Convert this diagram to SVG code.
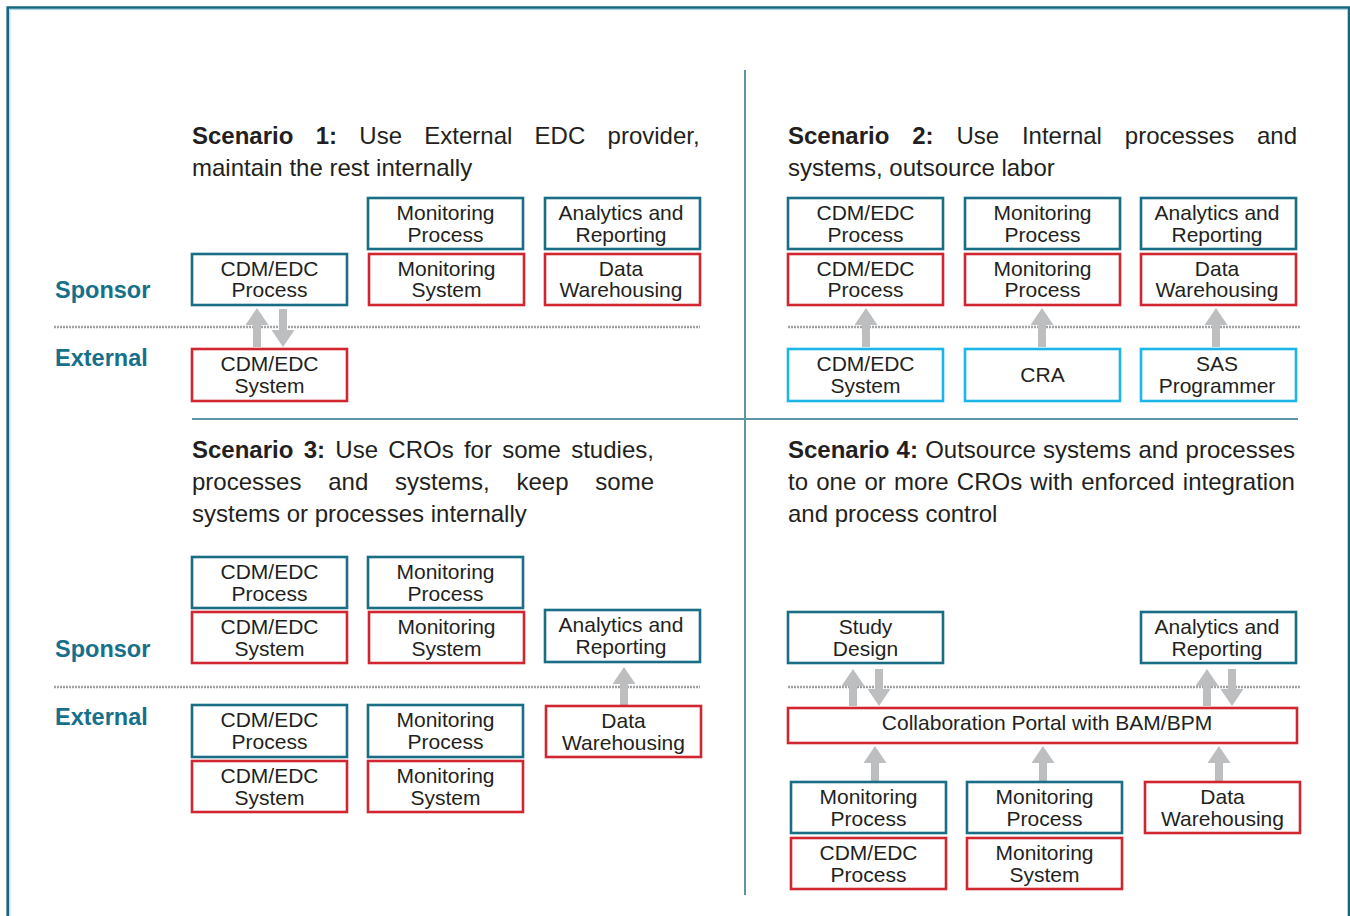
<svg xmlns="http://www.w3.org/2000/svg" width="1350" height="916" viewBox="0 0 1350 916">
<style>
.bg{fill:#ffffff}
.frame{fill:none;stroke:#16677f;stroke-width:2.6}
.frame2{fill:none;stroke:#9fd0e2;stroke-width:1}
.div{stroke:#5e95a5;stroke-width:2}
.dot{stroke:#a3a3a3;stroke-width:2.5;stroke-dasharray:2 1}
.t{fill:#ffffff;stroke:#196d84;stroke-width:2.6}
.r{fill:#ffffff;stroke:#d12630;stroke-width:2.6}
.c{fill:#ffffff;stroke:#1cb5e8;stroke-width:2.6}
.bt{font-family:"Liberation Sans",Arial,sans-serif;font-size:21px;fill:#231f20;text-anchor:middle}
.ht{font-family:"Liberation Sans",Arial,sans-serif;font-size:24px;fill:#231f20}
.hb{font-weight:bold}
.lab{font-family:"Liberation Sans",Arial,sans-serif;font-size:23.5px;font-weight:bold;fill:#17708a}
.ar{stroke:#bcbec0;stroke-width:8;fill:none;marker-end:url(#ah)}
</style>
<defs>
<marker id="ah" markerUnits="userSpaceOnUse" viewBox="0 0 17 23" markerWidth="17" markerHeight="23" refX="0" refY="11.5" orient="auto">
<path d="M0,0 L17,11.5 L0,23 z" fill="#bcbec0"/>
</marker>
</defs>
<rect class="bg" x="0" y="0" width="1350" height="916"/>
<g id="frame">
<path class="frame2" d="M9.8,930 V9.6 H1347"/>
<path class="frame" d="M7.7,930 V7.5 H1349 V930"/>
<line class="div" x1="745" y1="70" x2="745" y2="895"/>
<line class="div" x1="192" y1="419" x2="1298" y2="419"/>
<line class="dot" x1="54" y1="327" x2="700" y2="327"/>
<line class="dot" x1="788" y1="327" x2="1300" y2="327"/>
<line class="dot" x1="54" y1="687" x2="700" y2="687"/>
<line class="dot" x1="788" y1="687" x2="1300" y2="687"/>
</g>
<g id="labels">
<text class="lab" x="55" y="298">Sponsor</text>
<text class="lab" x="55" y="366">External</text>
<text class="lab" x="55" y="657">Sponsor</text>
<text class="lab" x="55" y="725">External</text>
</g>
<g id="titles">
<text class="ht" y="144"><tspan class="hb" x="192">Scenario</tspan><tspan class="hb" x="315.7">1:</tspan><tspan x="359.3">Use</tspan><tspan x="424.3">External</tspan><tspan x="534.6">EDC</tspan><tspan x="607.6">provider,</tspan></text>
<text class="ht" x="192" y="176">maintain the rest internally</text>
<text class="ht" y="144"><tspan class="hb" x="788">Scenario</tspan><tspan class="hb" x="912.2">2:</tspan><tspan x="956.4">Use</tspan><tspan x="1021.9">Internal</tspan><tspan x="1124.8">processes</tspan><tspan x="1257">and</tspan></text>
<text class="ht" x="788" y="176">systems, outsource labor</text>
<text class="ht" y="458"><tspan class="hb" x="192">Scenario</tspan><tspan class="hb" x="303.7">3:</tspan><tspan x="335.3">Use</tspan><tspan x="388.3">CROs</tspan><tspan x="463.9">for</tspan><tspan x="502.2">some</tspan><tspan x="571.2">studies,</tspan></text>
<text class="ht" y="490"><tspan x="192">processes</tspan><tspan x="328.2">and</tspan><tspan x="395">systems,</tspan><tspan x="516.5">keep</tspan><tspan x="595.3">some</tspan></text>
<text class="ht" x="192" y="522">systems or processes internally</text>
<text class="ht" y="458"><tspan class="hb" x="788">Scenario</tspan><tspan class="hb" x="896.6">4:</tspan><tspan x="925.2">Outsource</tspan><tspan x="1043.1">systems</tspan><tspan x="1138.4">and</tspan><tspan x="1185.6">processes</tspan></text>
<text class="ht" y="490"><tspan x="788">to</tspan><tspan x="816.2">one</tspan><tspan x="864.4">or</tspan><tspan x="893.9">more</tspan><tspan x="956.8">CROs</tspan><tspan x="1030.3">with</tspan><tspan x="1081.2">enforced</tspan><tspan x="1182.8">integration</tspan></text>
<text class="ht" x="788" y="522">and process control</text>
</g>
<g id="connectors">
<line class="ar" x1="257" y1="347" x2="257" y2="325"/>
<line class="ar" x1="283" y1="309" x2="283" y2="330"/>
<line class="ar" x1="866" y1="347" x2="866" y2="325"/>
<line class="ar" x1="1042" y1="347" x2="1042" y2="325"/>
<line class="ar" x1="1216" y1="347" x2="1216" y2="325"/>
<line class="ar" x1="624" y1="705" x2="624" y2="684"/>
<line class="ar" x1="853" y1="706" x2="853" y2="686"/>
<line class="ar" x1="879" y1="669" x2="879" y2="689"/>
<line class="ar" x1="1207" y1="706" x2="1207" y2="686"/>
<line class="ar" x1="1232" y1="669" x2="1232" y2="689"/>
<line class="ar" x1="875" y1="781" x2="875" y2="763"/>
<line class="ar" x1="1043" y1="781" x2="1043" y2="763"/>
<line class="ar" x1="1219" y1="781" x2="1219" y2="763"/>
</g>
<g id="s1-monitoring-process"><rect class="t" x="368" y="198" width="155" height="51"/><text class="bt" x="445.5" y="220">Monitoring</text><text class="bt" x="445.5" y="241.5">Process</text></g>
<g id="s1-analytics"><rect class="t" x="545" y="198" width="155" height="51"/><text class="bt" x="621" y="220">Analytics and</text><text class="bt" x="621" y="241.5">Reporting</text></g>
<g id="s1-cdm-process"><rect class="t" x="192" y="254" width="155" height="51"/><text class="bt" x="269.5" y="275.5">CDM/EDC</text><text class="bt" x="269.5" y="297">Process</text></g>
<g id="s1-monitoring-system"><rect class="r" x="369" y="254" width="155" height="51"/><text class="bt" x="446.5" y="275.5">Monitoring</text><text class="bt" x="446.5" y="297">System</text></g>
<g id="s1-data-warehousing"><rect class="r" x="545" y="254" width="155" height="51"/><text class="bt" x="621" y="275.5">Data</text><text class="bt" x="621" y="297">Warehousing</text></g>
<g id="s1-cdm-system"><rect class="r" x="192" y="349" width="155" height="52"/><text class="bt" x="269.5" y="371">CDM/EDC</text><text class="bt" x="269.5" y="392.5">System</text></g>

<g id="s2-cdm-process-a"><rect class="t" x="788" y="198" width="155" height="51"/><text class="bt" x="865.5" y="220">CDM/EDC</text><text class="bt" x="865.5" y="241.5">Process</text></g>
<g id="s2-monitoring-process-a"><rect class="t" x="965" y="198" width="155" height="51"/><text class="bt" x="1042.5" y="220">Monitoring</text><text class="bt" x="1042.5" y="241.5">Process</text></g>
<g id="s2-analytics"><rect class="t" x="1141" y="198" width="155" height="51"/><text class="bt" x="1217" y="220">Analytics and</text><text class="bt" x="1217" y="241.5">Reporting</text></g>
<g id="s2-cdm-process-b"><rect class="r" x="788" y="254" width="155" height="51"/><text class="bt" x="865.5" y="275.5">CDM/EDC</text><text class="bt" x="865.5" y="297">Process</text></g>
<g id="s2-monitoring-process-b"><rect class="r" x="965" y="254" width="155" height="51"/><text class="bt" x="1042.5" y="275.5">Monitoring</text><text class="bt" x="1042.5" y="297">Process</text></g>
<g id="s2-data-warehousing"><rect class="r" x="1141" y="254" width="155" height="51"/><text class="bt" x="1217" y="275.5">Data</text><text class="bt" x="1217" y="297">Warehousing</text></g>
<g id="s2-cdm-system"><rect class="c" x="788" y="349" width="155" height="52"/><text class="bt" x="865.5" y="371">CDM/EDC</text><text class="bt" x="865.5" y="392.5">System</text></g>
<g id="s2-cra"><rect class="c" x="965" y="349" width="155" height="52"/><text class="bt" x="1042.5" y="382">CRA</text></g>
<g id="s2-sas"><rect class="c" x="1141" y="349" width="155" height="52"/><text class="bt" x="1217" y="371">SAS</text><text class="bt" x="1217" y="392.5">Programmer</text></g>

<g id="s3-cdm-process-a"><rect class="t" x="192" y="557" width="155" height="51"/><text class="bt" x="269.5" y="579">CDM/EDC</text><text class="bt" x="269.5" y="600.5">Process</text></g>
<g id="s3-monitoring-process-a"><rect class="t" x="368" y="557" width="155" height="51"/><text class="bt" x="445.5" y="579">Monitoring</text><text class="bt" x="445.5" y="600.5">Process</text></g>
<g id="s3-cdm-system-a"><rect class="r" x="192" y="612" width="155" height="51"/><text class="bt" x="269.5" y="634">CDM/EDC</text><text class="bt" x="269.5" y="655.5">System</text></g>
<g id="s3-monitoring-system-a"><rect class="r" x="369" y="612" width="155" height="51"/><text class="bt" x="446.5" y="634">Monitoring</text><text class="bt" x="446.5" y="655.5">System</text></g>
<g id="s3-analytics"><rect class="t" x="545" y="610" width="155" height="52"/><text class="bt" x="621" y="632">Analytics and</text><text class="bt" x="621" y="653.5">Reporting</text></g>
<g id="s3-cdm-process-b"><rect class="t" x="192" y="705" width="155" height="52"/><text class="bt" x="269.5" y="727">CDM/EDC</text><text class="bt" x="269.5" y="748.5">Process</text></g>
<g id="s3-monitoring-process-b"><rect class="t" x="368" y="705" width="155" height="52"/><text class="bt" x="445.5" y="727">Monitoring</text><text class="bt" x="445.5" y="748.5">Process</text></g>
<g id="s3-data-warehousing"><rect class="r" x="546" y="706" width="155" height="51"/><text class="bt" x="623.5" y="728">Data</text><text class="bt" x="623.5" y="749.5">Warehousing</text></g>
<g id="s3-cdm-system-b"><rect class="r" x="192" y="761" width="155" height="51"/><text class="bt" x="269.5" y="783">CDM/EDC</text><text class="bt" x="269.5" y="804.5">System</text></g>
<g id="s3-monitoring-system-b"><rect class="r" x="368" y="761" width="155" height="51"/><text class="bt" x="445.5" y="783">Monitoring</text><text class="bt" x="445.5" y="804.5">System</text></g>

<g id="s4-study-design"><rect class="t" x="788" y="612" width="155" height="51"/><text class="bt" x="865.5" y="634">Study</text><text class="bt" x="865.5" y="655.5">Design</text></g>
<g id="s4-analytics"><rect class="t" x="1141" y="612" width="155" height="51"/><text class="bt" x="1217" y="634">Analytics and</text><text class="bt" x="1217" y="655.5">Reporting</text></g>
<g id="s4-portal"><rect class="r" x="788" y="708" width="509" height="35"/><text class="bt" x="1047" y="729.5">Collaboration Portal with BAM/BPM</text></g>
<g id="s4-monitoring-process-a"><rect class="t" x="791" y="782" width="155" height="51"/><text class="bt" x="868.5" y="804">Monitoring</text><text class="bt" x="868.5" y="825.5">Process</text></g>
<g id="s4-monitoring-process-b"><rect class="t" x="967" y="782" width="155" height="51"/><text class="bt" x="1044.5" y="804">Monitoring</text><text class="bt" x="1044.5" y="825.5">Process</text></g>
<g id="s4-data-warehousing"><rect class="r" x="1145" y="782" width="155" height="51"/><text class="bt" x="1222.5" y="804">Data</text><text class="bt" x="1222.5" y="825.5">Warehousing</text></g>
<g id="s4-cdm-process"><rect class="r" x="791" y="838" width="155" height="51"/><text class="bt" x="868.5" y="860">CDM/EDC</text><text class="bt" x="868.5" y="881.5">Process</text></g>
<g id="s4-monitoring-system"><rect class="r" x="967" y="838" width="155" height="51"/><text class="bt" x="1044.5" y="860">Monitoring</text><text class="bt" x="1044.5" y="881.5">System</text></g>
</svg>
